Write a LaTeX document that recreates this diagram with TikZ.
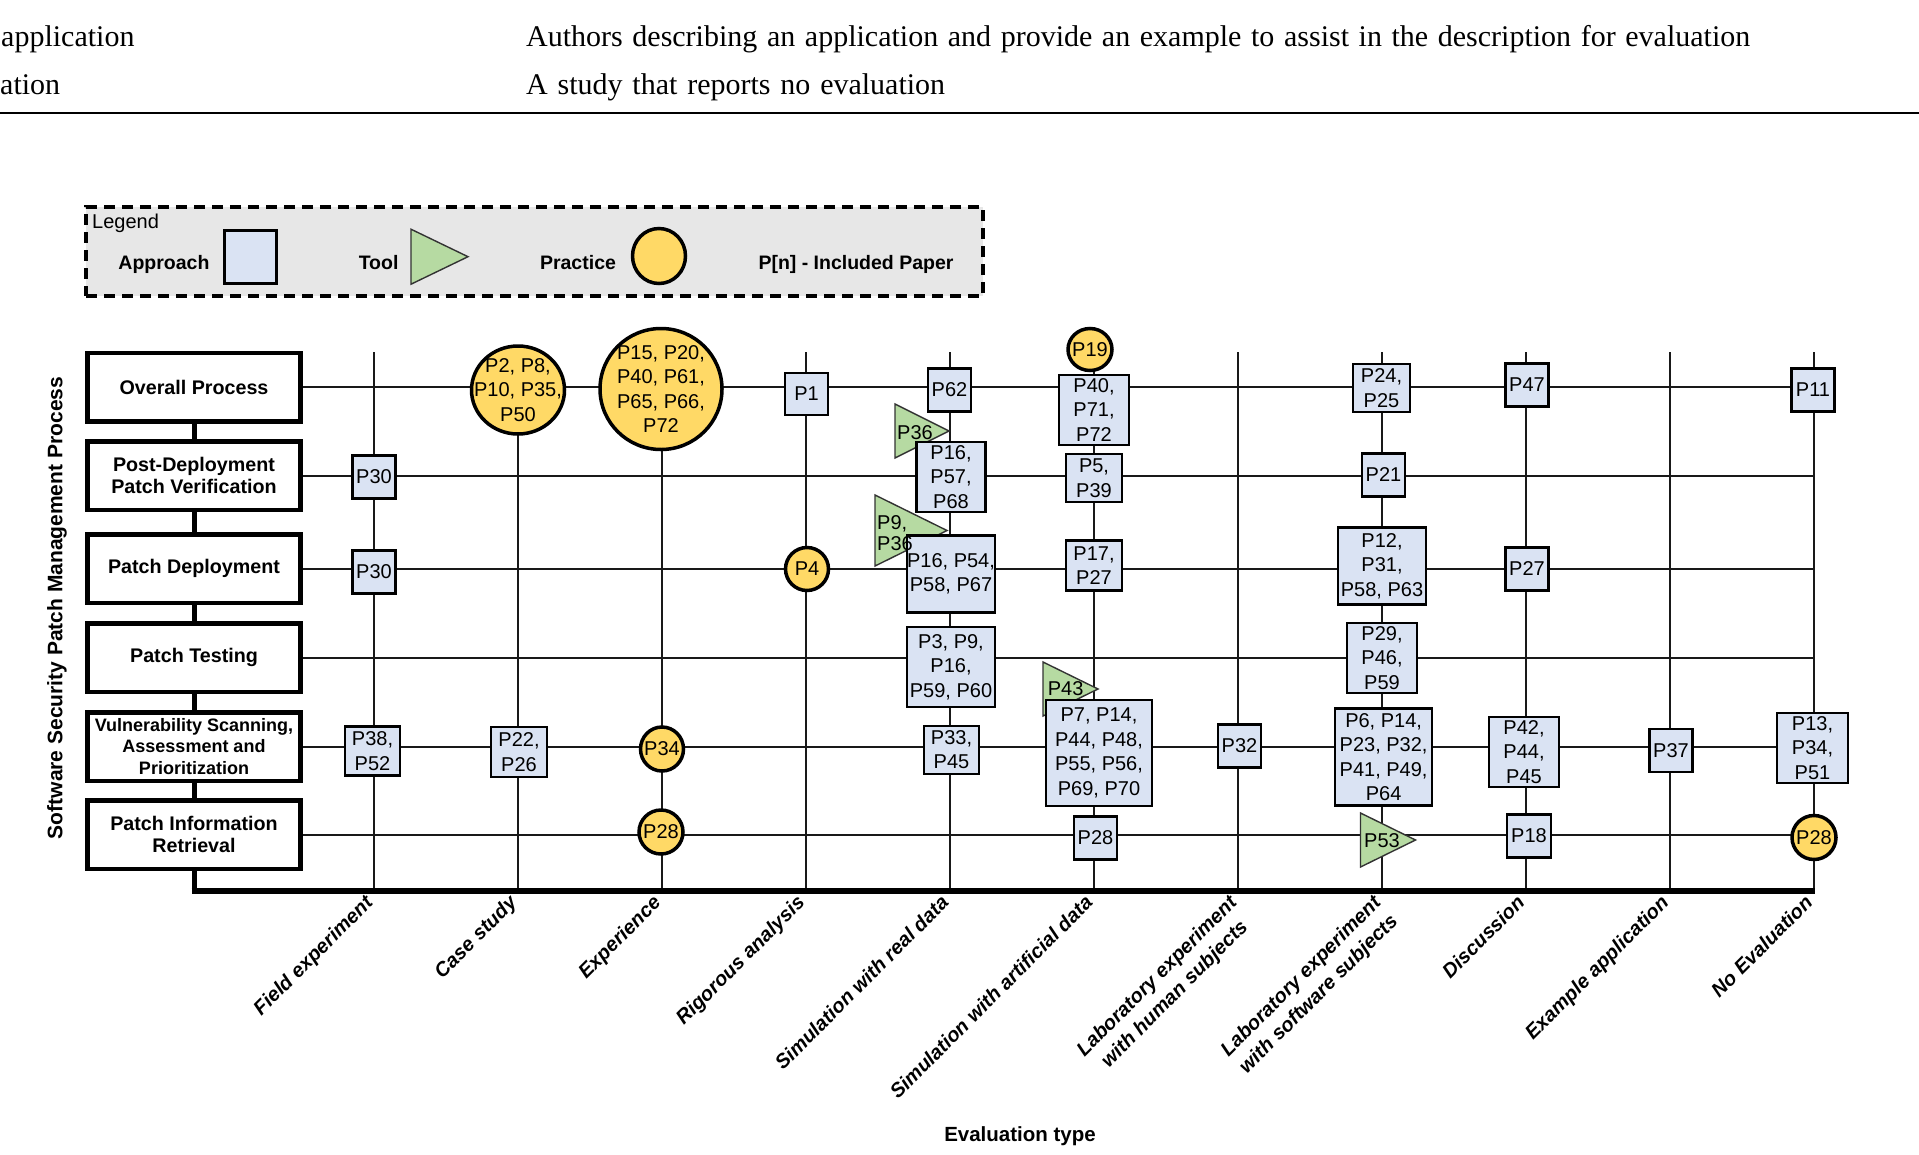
\documentclass[tikz,border=0pt]{standalone}
\usepackage{fontspec}
\setmainfont{Liberation Serif}
\newfontfamily\arial{Liberation Sans}
\usetikzlibrary{shapes.geometric}
\definecolor{apcol}{RGB}{218,227,243}
\definecolor{prcol}{RGB}{255,217,102}
\definecolor{tlcol}{RGB}{182,218,162}
\definecolor{lgcol}{RGB}{231,231,231}
\tikzset{
 ntxt/.style={font=\arial\fontsize{20}{24.5}\selectfont, align=center, inner sep=0pt},
 apbox/.style={draw=black, line width=2.2pt, fill=apcol, ntxt},
 sz/.style 2 args={minimum width=#1, minimum height=#2},
 prac/.style={ellipse, draw=black, line width=3.5pt, fill=prcol, inner sep=0pt, outer sep=0pt},
 pl/.style={label={[ntxt]center:{#1}}},
 tooltri/.style={draw=black!80, line width=1.4pt, fill=tlcol, line join=miter},
 gridline/.style={line width=2pt, draw=black!90},
 procbox/.style={draw=black, line width=4.5pt, fill=white, minimum width=213, minimum height=68.5, inner sep=0pt, align=center, font=\arial\bfseries\fontsize{19.7}{22}\selectfont},
 proclink/.style={line width=5pt, draw=black},
 axlab/.style={rotate=45, anchor=north east, inner sep=0pt, align=center, font=\arial\bfseries\itshape\fontsize{20}{25}\selectfont},
 legtxt/.style={anchor=base, inner sep=0pt, font=\arial\bfseries\fontsize{19.5}{24}\selectfont},
 toptxt/.style={anchor=base west, inner sep=0pt, font=\fontsize{30}{36}\selectfont},
}
\begin{document}
\begin{tikzpicture}[x=1pt,y=-1pt]
\useasboundingbox (0,0) rectangle (1919,1154);

% ---- top table fragment ----
\node[toptxt] (ta) at (1,46.5) {application};
\node[toptxt] (tb) at (526,46.5) {\hbox to 1224pt{Authors describing an application and provide an example to assist in the description for evaluation}};
\node[toptxt] (tc) at (0,94) {ation};
\node[toptxt] (td) at (526,94) {\hbox to 419pt{A study that reports no evaluation}};
\coordinate (ruleL) at (0,113);
\coordinate (ruleR) at (1919,113);
\draw[line width=2.5pt] (ruleL) -- (ruleR);

% ---- legend ----
\node[draw=black, fill=lgcol, line width=3.5pt, dash pattern=on 11pt off 7pt, minimum width=897, minimum height=89, inner sep=0pt] (legend) at (534.5,251.5) {};
\node[anchor=base west, inner sep=0pt, font=\arial\fontsize{20}{24}\selectfont] (legtitle) at (92,228.5) {Legend};
\node[legtxt] (lapp) at (164,269) {Approach};
\node[apbox, sz={52}{53}] (lappbox) at (250.5,257) {};
\node[legtxt] (ltool) at (378.6,269) {Tool};
\coordinate (ltooltip) at (468,256.7);
\draw[tooltri] (ltooltip) -- ++(-57,-27.5) -- ++(0,55) -- cycle;
\node[legtxt] (lprac) at (578,269) {Practice};
\node[prac, sz={53}{55}] (lpraccirc) at (659,256) {};
\node[legtxt] (lpaper) at (856,269) {P[n] - Included Paper};

% ---- vertical label ----
\node[rotate=90, inner sep=0pt, font=\arial\bfseries\fontsize{21}{25}\selectfont] (ylab) at (57,608) {Software Security Patch Management Process};

% ---- process boxes ----
\node[procbox] (proc1) at (194,387) {Overall Process};
\node[procbox] (proc2) at (194,475.5) {Post-Deployment\\Patch Verification};
\node[procbox] (proc3) at (194,568.5) {Patch Deployment};
\node[procbox] (proc4) at (194,657.5) {Patch Testing};
\node[procbox, font=\arial\bfseries\fontsize{18}{21.5}\selectfont] (proc5) at (194,746.5) {Vulnerability Scanning,\\Assessment and\\Prioritization};
\node[procbox] (proc6) at (194,834.5) {Patch Information\\Retrieval};

\coordinate (axL) at (191.5,891);
\coordinate (axR) at (1815,891);
\coordinate (axT) at (194,891);
\draw[proclink] (proc1.south) -- (proc2.north);
\draw[proclink] (proc2.south) -- (proc3.north);
\draw[proclink] (proc3.south) -- (proc4.north);
\draw[proclink] (proc4.south) -- (proc5.north);
\draw[proclink] (proc5.south) -- (proc6.north);
\draw[proclink] (proc6.south) -- (axT);

% ---- grid ----
\foreach \i/\x in {1/373.5,2/517.5,3/661.5,4/805.5,5/949.5,6/1093.5,7/1237.5,8/1381.5,9/1525.5,10/1669.5,11/1813.5}{
  \coordinate (ct\i) at (\x,352);
  \coordinate (cb\i) at (\x,891);
  \draw[gridline] (ct\i) -- (cb\i);
}
\foreach \i/\y in {1/387,2/475.5,3/568.5,4/657.5,5/746.5,6/834.5}{
  \coordinate (re\i) at (1813.5,\y);
  \draw[gridline] (proc\i.east) -- (re\i);
}
\draw[line width=6pt] (axL) -- (axR);

% ---- tool triangles (shapes) ----
\coordinate (tri36) at (949,431);
\draw[tooltri] (tri36) -- ++(-54,-27) -- ++(0,54) -- cycle;
\coordinate (tri9) at (947,530.5);
\draw[tooltri] (tri9) -- ++(-72,-35.5) -- ++(0,71) -- cycle;
\coordinate (tri43) at (1098,689);
\draw[tooltri] (tri43) -- ++(-55,-27) -- ++(0,54) -- cycle;
\coordinate (tri53) at (1415.5,840);
\draw[tooltri] (tri53) -- ++(-55,-27) -- ++(0,54) -- cycle;

% ---- row 1 ----
\node[prac, sz={93}{88}, pl={P2, P8,\\P10, P35,\\P50}] (r1c2) at (518,390) {};
\node[prac, sz={122}{121}, pl={P15, P20,\\P40, P61,\\P65, P66,\\P72}] (r1c3) at (661,389) {};
\node[apbox, sz={43}{42}] (r1c4) at (806.5,394) {P1};
\node[apbox, sz={43}{43}] (r1c5) at (949.5,390) {P62};
\node[prac, sz={44}{42}, pl={P19}] (r1c6a) at (1090,349.5) {};
\node[apbox, sz={70}{70}] (r1c6) at (1094,410) {P40,\\P71,\\P72};
\node[apbox, sz={57}{48}] (r1c8) at (1381.5,388) {P24,\\P25};
\node[apbox, sz={43}{43}] (r1c9) at (1527,385) {P47};
\node[apbox, sz={43}{43}] (r1c11) at (1813,390) {P11};

% ---- row 2 ----
\node[apbox, sz={43}{43}] (r2c1) at (374,477) {P30};
\node[apbox, sz={69}{70}] (r2c5) at (951,477) {P16,\\P57,\\P68};
\node[apbox, sz={56}{48}] (r2c6) at (1094,478) {P5,\\P39};
\node[apbox, sz={43}{43}] (r2c8) at (1383.5,475) {P21};

% ---- row 3 ----
\node[apbox, sz={43}{43}] (r3c1) at (374,572) {P30};
\node[prac, sz={43}{43}, pl={P4}] (r3c4) at (807,569) {};
\node[apbox, sz={88}{77}] (r3c5) at (951,574) {P16, P54,\\P58, P67};
\node[apbox, sz={56}{50}] (r3c6) at (1094,565.5) {P17,\\P27};
\node[apbox, sz={88}{77}] (r3c8) at (1382,566) {P12,\\P31,\\P58, P63};
\node[apbox, sz={43}{43}] (r3c9) at (1527,569) {P27};

% ---- row 4 ----
\node[apbox, sz={88}{80}] (r4c5) at (951,667) {P3, P9,\\P16,\\P59, P60};
\node[apbox, sz={70}{70}] (r4c8) at (1382,658) {P29,\\P46,\\P59};

% ---- row 5 ----
\node[apbox, sz={55}{49}] (r5c1) at (372.5,751) {P38,\\P52};
\node[apbox, sz={56}{50}] (r5c2) at (519,752) {P22,\\P26};
\node[prac, sz={43}{44}, pl={P34}] (r5c3) at (662,749) {};
\node[apbox, sz={55}{48}] (r5c5) at (951.5,749.6) {P33,\\P45};
\node[apbox, sz={106}{106}] (r5c6) at (1099,752.7) {P7, P14,\\P44, P48,\\P55, P56,\\P69, P70};
\node[apbox, sz={43}{43}] (r5c7) at (1239.5,746) {P32};
\node[apbox, sz={97}{97}] (r5c8) at (1383.6,757) {P6, P14,\\P23, P32,\\P41, P49,\\P64};
\node[apbox, sz={70}{70}] (r5c9) at (1524,752) {P42,\\P44,\\P45};
\node[apbox, sz={43}{43}] (r5c10) at (1671,750.5) {P37};
\node[apbox, sz={71}{70}] (r5c11) at (1812.5,748) {P13,\\P34,\\P51};

% ---- row 6 ----
\node[prac, sz={44}{44}, pl={P28}] (r6c3) at (661,832) {};
\node[apbox, sz={43}{43}] (r6c6) at (1095.5,838) {P28};
\node[apbox, sz={44}{43}] (r6c9) at (1529,836) {P18};
\node[prac, sz={44}{44}, pl={P28}] (r6c11) at (1814,837.5) {};

% ---- tool texts ----
\node[ntxt] (tx36) at (915,432.5) {P36};
\node[ntxt, anchor=west, align=left, font=\arial\fontsize{20}{21}\selectfont] (tx9) at (877,533) {P9,\\P36};
\node[ntxt] (tx43) at (1065.6,689) {P43};
\node[ntxt] (tx53) at (1382,840.7) {P53};

% ---- axis labels ----
\node[axlab] (ax1) at (363.5,893.5) {Field experiment};
\node[axlab] (ax2) at (507.5,893.5) {Case study};
\node[axlab] (ax3) at (651.5,893.5) {Experience};
\node[axlab] (ax4) at (795.5,893.5) {Rigorous analysis};
\node[axlab] (ax5) at (939.5,893.5) {Simulation with real data};
\node[axlab] (ax6) at (1083.5,893.5) {Simulation with artificial data};
\node[axlab] (ax7) at (1227.5,893.5) {Laboratory experiment\\with human subjects};
\node[axlab] (ax8) at (1371.5,893.5) {Laboratory experiment\\with software subjects};
\node[axlab] (ax9) at (1515.5,893.5) {Discussion};
\node[axlab] (ax10) at (1659.5,893.5) {Example application};
\node[axlab] (ax11) at (1803.5,893.5) {No Evaluation};
\node[inner sep=0pt, font=\arial\bfseries\fontsize{20.5}{24}\selectfont] (xlab) at (1020,1136) {Evaluation type};
\end{tikzpicture}
\end{document}
